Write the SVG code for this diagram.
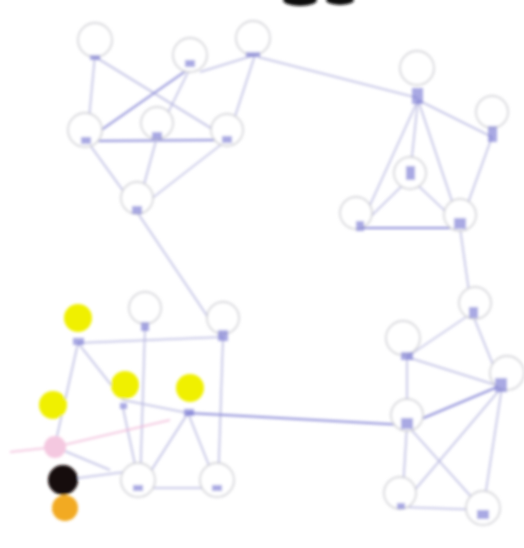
<svg xmlns="http://www.w3.org/2000/svg" width="524" height="548" viewBox="0 0 524 548">
<defs>
<filter id="blur" x="-5%" y="-5%" width="110%" height="110%"><feGaussianBlur stdDeviation="1.8"/></filter>
<style>
.n{fill:#fff;stroke:#cacad0;stroke-width:1.4}
.m{fill:#7070d0;opacity:0.6}
.e{stroke:#b8b8e0;stroke-width:1.5;fill:none}
.d{stroke:#8c8cd8;stroke-width:2;fill:none}
.y{fill:#f0f000;stroke:none}
</style>
</defs>
<rect width="524" height="548" fill="#fff"/>
<g filter="url(#blur)">
<g id="topmark">
<ellipse cx="300" cy="0" rx="17" ry="6" fill="#111"/>
<ellipse cx="340" cy="0" rx="14" ry="5" fill="#111"/>
</g>
<g id="connectors">
<line class="e" x1="95" y1="55" x2="87" y2="140"/>
<line class="e" x1="97" y1="58" x2="227" y2="138"/>
<line class="d" x1="190" y1="68" x2="87" y2="140"/>
<line class="e" x1="190" y1="68" x2="157" y2="135"/>
<line class="e" x1="255" y1="55" x2="200" y2="72"/>
<line class="e" x1="255" y1="55" x2="228" y2="138"/>
<line class="d" x1="87" y1="141" x2="227" y2="140"/>
<line class="e" x1="157" y1="137" x2="137" y2="210"/>
<line class="e" x1="87" y1="141" x2="137" y2="210"/>
<line class="e" x1="227" y1="140" x2="137" y2="210"/>
<line class="e" x1="137" y1="212" x2="220" y2="335"/>
<line class="e" x1="258" y1="57" x2="418" y2="98"/>
<line class="e" x1="418" y1="100" x2="492" y2="137"/>
<line class="e" x1="418" y1="100" x2="410" y2="175"/>
<line class="e" x1="418" y1="100" x2="360" y2="227"/>
<line class="e" x1="418" y1="100" x2="460" y2="225"/>
<line class="e" x1="492" y1="137" x2="460" y2="225"/>
<line class="d" x1="360" y1="228" x2="460" y2="228"/>
<line class="e" x1="410" y1="178" x2="360" y2="227"/>
<line class="e" x1="410" y1="178" x2="460" y2="225"/>
<line class="e" x1="460" y1="228" x2="472" y2="313"/>
<line class="e" x1="78" y1="343" x2="223" y2="337"/>
<line class="e" x1="78" y1="343" x2="123" y2="400"/>
<line class="e" x1="78" y1="343" x2="55" y2="445"/>
<line class="e" x1="145" y1="327" x2="140" y2="488"/>
<line class="e" x1="223" y1="337" x2="218" y2="488"/>
<line class="e" x1="123" y1="400" x2="188" y2="413"/>
<line class="e" x1="188" y1="413" x2="140" y2="488"/>
<line class="e" x1="188" y1="413" x2="218" y2="488"/>
<line class="e" x1="140" y1="488" x2="218" y2="488"/>
<line class="e" x1="123" y1="408" x2="140" y2="488"/>
<line class="e" x1="55" y1="447" x2="110" y2="470"/>
<line class="e" x1="63" y1="480" x2="140" y2="470"/>
<line stroke="#f0b8d8" stroke-width="1.5" x1="10" y1="452" x2="55" y2="447"/>
<line stroke="#f0b8d8" stroke-width="1.5" x1="55" y1="447" x2="170" y2="420"/>
<line class="d" x1="188" y1="413" x2="405" y2="425"/>
<line class="e" x1="472" y1="313" x2="407" y2="357"/>
<line class="e" x1="472" y1="313" x2="502" y2="387"/>
<line class="e" x1="407" y1="357" x2="502" y2="387"/>
<line class="e" x1="407" y1="357" x2="407" y2="425"/>
<line class="d" x1="407" y1="425" x2="502" y2="385"/>
<line class="e" x1="407" y1="425" x2="483" y2="510"/>
<line class="e" x1="407" y1="425" x2="402" y2="505"/>
<line class="e" x1="402" y1="507" x2="483" y2="510"/>
<line class="e" x1="502" y1="387" x2="483" y2="510"/>
<line class="e" x1="502" y1="387" x2="402" y2="505"/>
</g>
<g id="n1"><circle class="n" cx="95" cy="40" r="17"/><rect class="m" x="90" y="55" width="10" height="5"/></g>
<g id="n2"><circle class="n" cx="190" cy="55" r="17"/><rect class="m" x="185" y="60" width="10" height="7"/></g>
<g id="n3"><circle class="n" cx="253" cy="38" r="17"/><rect class="m" x="246" y="52" width="14" height="5"/></g>
<g id="n4"><circle class="n" cx="85" cy="130" r="17"/><rect class="m" x="81" y="137" width="10" height="7"/></g>
<g id="n5"><circle class="n" cx="157" cy="123" r="16"/><rect class="m" x="152" y="132" width="10" height="7"/></g>
<g id="n6"><circle class="n" cx="227" cy="130" r="16"/><rect class="m" x="222" y="136" width="10" height="7"/></g>
<g id="n7"><circle class="n" cx="137" cy="198" r="16"/><rect class="m" x="132" y="206" width="10" height="8"/></g>
<g id="r1"><circle class="n" cx="417" cy="68" r="17"/><rect class="m" x="412" y="88" width="11" height="16"/></g>
<g id="r2"><circle class="n" cx="492" cy="112" r="16"/><rect class="m" x="488" y="126" width="9" height="16"/></g>
<g id="r3"><circle class="n" cx="410" cy="173" r="16"/><rect class="m" x="406" y="166" width="9" height="14"/></g>
<g id="r4"><circle class="n" cx="356" cy="213" r="16"/><rect class="m" x="356" y="221" width="8" height="10"/></g>
<g id="r5"><circle class="n" cx="460" cy="215" r="16"/><rect class="m" x="454" y="218" width="12" height="11"/></g>
<g id="y1"><circle class="y" cx="78" cy="318" r="14"/><rect class="m" x="73" y="338" width="11" height="7"/></g>
<g id="b2"><circle class="n" cx="145" cy="308" r="16"/><rect class="m" x="141" y="322" width="8" height="9"/></g>
<g id="b3"><circle class="n" cx="223" cy="318" r="16"/><rect class="m" x="218" y="330" width="10" height="11"/></g>
<g id="y2"><circle class="y" cx="125" cy="385" r="14"/><rect class="m" x="120" y="403" width="7" height="6"/></g>
<g id="y3"><circle class="y" cx="190" cy="388" r="14"/><rect class="m" x="184" y="409" width="10" height="7"/></g>
<g id="y4"><circle class="y" cx="53" cy="405" r="14"/></g>
<g id="pink"><circle fill="#f4c8e0" cx="55" cy="447" r="11"/></g>
<g id="black"><circle fill="#120808" cx="63" cy="480" r="15"/></g>
<g id="orange"><circle fill="#f2aa20" cx="65" cy="508" r="13"/></g>
<g id="b4"><circle class="n" cx="138" cy="480" r="17"/><rect class="m" x="133" y="485" width="10" height="6"/></g>
<g id="b5"><circle class="n" cx="217" cy="480" r="17"/><rect class="m" x="212" y="485" width="10" height="6"/></g>
<g id="c1"><circle class="n" cx="475" cy="303" r="16"/><rect class="m" x="469" y="307" width="9" height="11"/></g>
<g id="c2"><circle class="n" cx="403" cy="338" r="17"/><rect class="m" x="401" y="352" width="12" height="8"/></g>
<g id="c3"><circle class="n" cx="507" cy="373" r="17"/><rect class="m" x="495" y="378" width="12" height="14"/></g>
<g id="c4"><circle class="n" cx="407" cy="415" r="16"/><rect class="m" x="401" y="418" width="12" height="11"/></g>
<g id="c5"><circle class="n" cx="400" cy="493" r="16"/><rect class="m" x="397" y="503" width="8" height="6"/></g>
<g id="c6"><circle class="n" cx="483" cy="508" r="17"/><rect class="m" x="477" y="510" width="12" height="9"/></g>
</g>
</svg>
